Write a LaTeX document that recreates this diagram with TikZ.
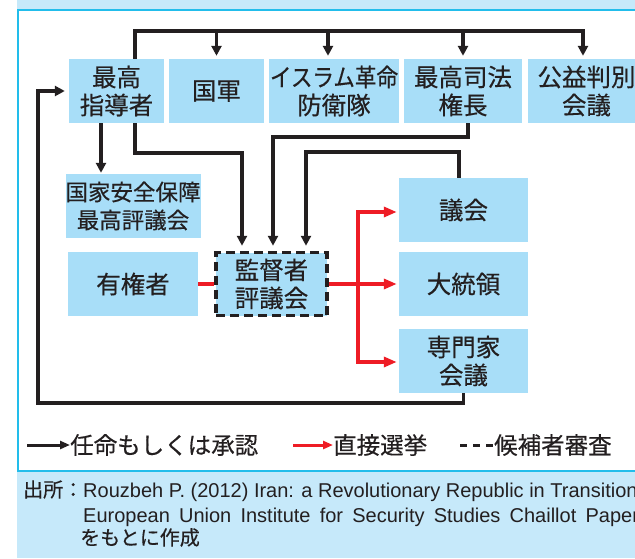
\documentclass[tikz,border=0pt]{standalone}
\usepackage{graphicx}
\usepackage{fontspec}
\setmainfont{Liberation Sans}
\newfontfamily\jp[FakeBold=0.4]{Noto Sans CJK JP}
\usetikzlibrary{arrows.meta}
\definecolor{boxblue}{HTML}{A8DEF8}
\definecolor{srcblue}{HTML}{C6E9FA}
\definecolor{panelcyan}{HTML}{22BDEB}
\definecolor{ink}{HTML}{231F20}
\definecolor{redline}{HTML}{EE1C25}
\begin{document}
\begin{tikzpicture}[x=1pt,y=-1pt,
  org/.style={fill=boxblue, inner sep=0pt, align=center, text=ink,
    font=\jp\fontsize{24.5}{28}\selectfont},
  wide/.style={minimum width=130pt, minimum height=64pt},
  appt/.style={draw=ink, line width=3.5pt, -{Triangle[length=10pt,width=10pt]}},
  vote/.style={draw=redline, line width=3.2pt},
  redtip/.style={-{Triangle[length=13pt,width=10pt]}},
  legendtext/.style={inner sep=0pt, anchor=west, text=ink,
    font=\jp\fontsize{23.5}{28}\selectfont},
  srctext/.style={inner sep=0pt, anchor=base west, text=ink}]
\useasboundingbox (0,0) rectangle (635,558);
\clip (0,0) rectangle (635,558);

% frame
\fill[srcblue] (17,0) rectangle (640,8.5);
\fill[srcblue] (17,472) rectangle (640,558);
\draw[panelcyan, line width=2pt] (18,9.5) rectangle (660,471);

% top row
\node[org, minimum width=95pt, minimum height=64pt] (leader) at (116.5,91) {最高\\指導者};
\node[org, minimum width=95pt, minimum height=64pt] (army) at (216.5,91) {国軍};
\node[org, minimum width=130pt, minimum height=64pt] (irgc) at (334,91) {\scalebox{0.88}[1]{イスラム革命}\\防衛隊};
\node[org, minimum width=118pt, minimum height=64pt] (judiciary) at (463,91) {最高司法\\権長};
\node[org, minimum width=117pt, minimum height=64pt] (expedi) at (586.5,91) {公益判別\\会議};

% left column
\node[org, wide, font=\jp\fontsize{22.5}{28}\selectfont] (nsc) at (133,206) {国家安全保障\\最高評議会};
\node[org, wide] (voters) at (133,284) {有権者};

% right column
\node[org, minimum width=129pt, minimum height=64pt] (parliament) at (463.5,210) {議会};
\node[org, minimum width=129pt, minimum height=64pt] (president) at (463.5,284) {大統領};
\node[org, minimum width=129pt, minimum height=64pt] (experts) at (463.5,361) {専門家\\会議};

% guardian council
\node[org, minimum width=111pt, minimum height=63pt, draw=ink, line width=3.5pt,
  dash pattern=on 9pt off 5pt] (guardian) at (271.5,284) {監督者\\評議会};

% appointment bus
\coordinate (bus) at (135,31);
\coordinate (busE) at (583,31);
\coordinate (b2) at (328,31);
\draw[appt, shorten >=3pt] (leader.north -| bus) -- (bus) -- (busE) -- (busE |- expedi.north);
\draw[appt, shorten >=3pt] (army.north |- bus) -- (army.north);
\draw[appt, shorten >=3pt] (b2) -- (b2 |- irgc.north);
\draw[appt, shorten >=3pt] (judiciary.north |- bus) -- (judiciary.north);

% leader to NSC
\coordinate (x101) at (101,0);
\draw[appt, shorten >=1pt] (leader.south -| x101) -- (nsc.north -| x101);

% to guardian council
\coordinate (g1) at (135,153);
\coordinate (g1e) at (242,153);
\draw[appt, shorten >=5pt] (leader.south -| g1) -- (g1) -- (g1e) -- (g1e |- guardian.north);
\coordinate (j1) at (468,137);
\coordinate (j1e) at (273,137);
\draw[appt, shorten >=5pt] (judiciary.south -| j1) -- (j1) -- (j1e) -- (j1e |- guardian.north);
\coordinate (p1) at (459,152);
\coordinate (p1e) at (306,152);
\draw[appt, shorten >=5pt] (parliament.north -| p1) -- (p1) -- (p1e) -- (p1e |- guardian.north);

% experts back to leader
\coordinate (ret) at (38,403);
\draw[appt, shorten >=4pt] (experts.south) -- (experts.south |- ret) -- (ret) -- (ret |- leader.west) -- (leader.west);

% direct elections
\coordinate (r1) at (358,212);
\coordinate (r3) at (358,362);
\draw[vote] (voters.east) -- (guardian.west);
\draw[vote, redtip, shorten >=2pt] (guardian.east) -- (president.west);
\draw[vote, {Triangle[length=13pt,width=10pt]}-{Triangle[length=13pt,width=10pt]},
  shorten <=2pt, shorten >=2pt] (r1 -| parliament.west) -- (r1) -- (r3) -- (r3 -| experts.west);

% legend
\node[legendtext] (lgA) at (70,445) {任命もしくは承認};
\coordinate (lgAs) at (27,445);
\draw[ink, line width=3pt, -{Triangle[length=10pt,width=8pt]}] (lgAs) -- (lgA.west);
\node[legendtext] (lgB) at (333,445) {直接選挙};
\coordinate (lgBs) at (293,445);
\draw[redline, line width=3pt, -{Triangle[length=10pt,width=8pt]}] (lgBs) -- (lgB.west);
\node[legendtext] (lgC) at (494,445) {候補者審査};
\coordinate (lgCs) at (460,445);
\draw[ink, line width=3pt, dash pattern=on 7pt off 6pt] (lgCs) -- (lgC.west);

% source
\node[srctext, font=\jp\fontsize{20}{22}\selectfont] (srcL) at (23,497) {出所：};
\node[srctext, font=\fontsize{20}{22}\selectfont] (src1) at (83,497) {Rouzbeh P. (2012) Iran: a Revolutionary Republic in Transition};
\node[srctext, font=\fontsize{20}{22}\selectfont] (src2) at (83,522) {\spaceskip=9.2pt European Union Institute for Security Studies Chaillot Paper};
\node[srctext, font=\jp\fontsize{20}{22}\selectfont] (src3) at (80,545) {をもとに作成};
\end{tikzpicture}
\end{document}
